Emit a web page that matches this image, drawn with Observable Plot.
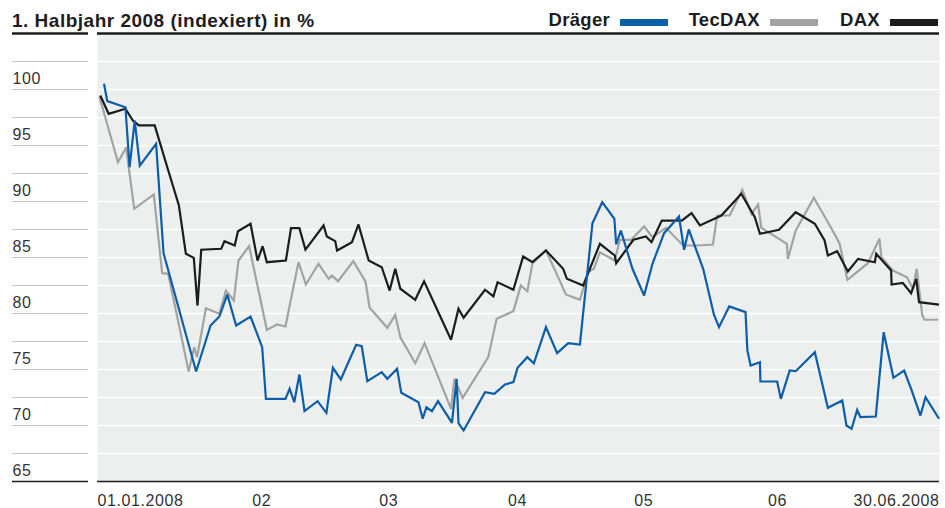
<!DOCTYPE html>
<html><head><meta charset="utf-8">
<script src="https://cdn.jsdelivr.net/npm/d3@7"></script>
<script src="https://cdn.jsdelivr.net/npm/@observablehq/plot@0.6"></script>
<style>
body{margin:0;background:#fff;}
#wrap{position:relative;width:945px;height:508px;font-family:"Liberation Sans",Arial,Helvetica,sans-serif;overflow:hidden;}
.t{position:absolute;white-space:nowrap;font-weight:bold;color:#1d1d1f;}
#title{left:12px;top:11px;font-size:19px;line-height:19px;letter-spacing:0.5px;}
.lg{font-size:18.5px;line-height:19px;top:10px;letter-spacing:0.3px;}
.sw{position:absolute;top:19px;height:7px;width:48px;}
#chart{position:absolute;left:0;top:28px;}
</style></head><body>
<div id="wrap">
  <div id="title" class="t"></div>
  <div id="legend"></div>
  <div id="chart"></div>
</div>
<script>
const titleText = "1. Halbjahr 2008 (indexiert) in %";
const seriesNames = ["Dräger", "TecDAX", "DAX"];
const seriesColors = ["#0b5ea8", "#a3a3a3", "#1c1c1e"];

// x = days since 01.01.2008, y = index value in %
const dragerPoints = [[1.4,100.51],[2.1,98.96],[6.0,98.42],[6.9,93.06],[8.0,97.23],[9.1,93.21],[12.6,95.15],[14.2,85.38],[21.2,74.82],[24.3,78.93],[26.2,79.73],[27.9,81.70],[29.8,78.93],[32.9,79.73],[35.4,76.99],[36.2,72.38],[40.4,72.38],[41.3,73.28],[42.3,72.08],[43.4,74.55],[44.5,71.29],[47.3,72.17],[49.2,71.13],[50.6,75.15],[52.3,74.11],[55.6,77.21],[56.8,77.08],[58.0,73.96],[61.1,74.76],[62.3,74.17],[64.4,75.06],[65.3,72.92],[69.0,72.08],[69.9,70.60],[70.7,71.63],[71.9,71.28],[73.2,72.17],[76.2,70.24],[77.2,74.17],[77.6,70.21],[78.7,69.55],[83.3,72.97],[85.3,72.83],[87.6,73.66],[89.4,73.87],[90.3,75.15],[92.4,76.10],[93.8,75.56],[96.4,78.78],[98.8,76.46],[101.2,77.35],[103.7,77.23],[106.4,88.06],[108.5,89.94],[111.1,88.46],[111.5,86.16],[112.5,87.41],[115.0,83.99],[117.5,81.61],[119.3,84.44],[121.8,87.17],[125.0,88.66],[126.1,85.69],[127.1,87.50],[130.2,83.99],[132.5,79.91],[133.6,78.78],[135.8,80.63],[139.3,80.12],[139.7,76.70],[140.4,75.36],[142.4,75.65],[142.5,73.93],[146.1,73.93],[146.9,72.38],[148.8,74.91],[150.1,74.85],[154.2,76.54],[157.0,71.58],[160.1,72.23],[161.0,70.00],[162.1,69.71],[163.3,71.40],[164.0,70.74],[167.3,70.80],[169.0,78.33],[171.1,74.26],[173.4,74.91],[174.9,73.28],[176.9,70.89],[178.0,72.53],[180.9,70.60]];

const tecdaxPoints = [[0.4,99.38],[4.4,93.51],[6.2,94.85],[6.7,93.06],[7.9,89.35],[12.1,90.63],[13.9,83.60],[15.2,83.54],[19.6,74.82],[20.8,76.99],[21.4,76.10],[23.3,80.47],[26.2,79.97],[27.6,82.05],[29.3,81.16],[30.3,84.73],[32.6,86.01],[36.4,78.54],[38.6,79.02],[40.4,78.84],[43.2,84.58],[44.8,82.59],[47.5,84.44],[49.7,83.10],[50.4,83.39],[51.7,82.88],[55.0,84.67],[57.6,82.86],[58.5,80.51],[62.3,78.72],[64.0,79.88],[65.1,77.88],[68.3,75.56],[70.3,77.35],[76.0,71.49],[76.7,74.17],[78.5,72.47],[84.0,76.10],[85.8,79.53],[89.4,80.21],[91.0,82.50],[92.4,81.99],[93.5,84.49],[96.4,85.63],[100.7,81.70],[103.7,81.22],[105.5,83.69],[106.7,83.99],[108.0,85.47],[111.2,84.73],[112.3,86.58],[114.7,86.58],[117.5,87.77],[119.3,86.81],[122.2,87.65],[125.9,86.07],[129.1,86.07],[132.3,86.16],[133.2,88.75],[135.9,88.75],[138.6,91.04],[140.6,88.90],[142.0,89.73],[142.7,87.65],[148.2,86.22],[148.4,84.88],[150.1,87.41],[154.0,90.33],[157.8,87.56],[159.5,86.28],[161.2,83.01],[165.6,84.49],[168.1,86.67],[168.5,85.03],[171.0,83.84],[174.0,83.24],[175.3,82.21],[176.1,83.99],[177.3,79.82],[177.8,79.44],[180.7,79.44]];

const daxPoints = [[0.6,99.46],[2.4,97.83],[6.0,98.28],[7.6,97.23],[8.9,96.79],[12.3,96.79],[15.0,93.06],[17.5,89.64],[19.0,85.33],[20.7,84.97],[21.5,80.71],[22.3,85.69],[26.6,85.78],[27.3,86.46],[29.5,86.07],[30.2,87.35],[32.9,88.01],[34.4,84.73],[35.5,86.01],[36.4,84.58],[40.5,84.73],[41.6,87.62],[43.4,87.62],[44.7,85.71],[48.6,87.86],[49.3,86.88],[51.1,86.46],[51.5,85.63],[54.7,86.37],[56.1,87.95],[58.3,84.73],[61.1,84.13],[62.8,82.05],[64.0,83.99],[65.1,82.21],[68.3,81.22],[70.2,82.88],[76.0,77.65],[77.6,80.42],[78.7,79.62],[83.3,82.12],[85.1,81.52],[86.0,82.79],[89.4,82.12],[91.5,85.09],[93.5,84.58],[96.4,85.63],[100.1,83.99],[100.9,83.10],[104.4,82.50],[108.0,86.22],[111.2,85.18],[111.5,84.49],[115.2,86.58],[117.9,86.88],[119.1,86.37],[121.3,88.30],[125.6,88.30],[127.7,88.96],[129.5,87.86],[134.1,88.75],[138.4,90.69],[141.3,88.60],[142.4,87.12],[146.5,87.47],[150.1,89.04],[154.2,88.01],[156.3,86.52],[157.0,85.18],[159.0,85.56],[161.3,83.75],[163.5,84.88],[167.1,84.58],[167.4,85.33],[170.6,83.84],[170.7,82.59],[173.1,82.74],[174.9,81.81],[176.0,83.10],[176.6,81.01],[180.9,80.80]];

const yLabelValues = [100, 95, 90, 85, 80, 75, 70, 65];
const gridValues = [67.5, 70, 72.5, 75, 77.5, 80, 82.5, 85, 87.5, 90, 92.5, 95, 97.5, 100, 102.5];
const xTickDays = [0, 35.3, 62.6, 90.3, 117.4, 146.2, 181];
const xTickLabels = ["01.01.2008", "02", "03", "04", "05", "06", "30.06.2008"];

// header
document.getElementById("title").textContent = titleText;
const legendLayout = [{textRight: 610, swatchLeft: 620}, {textRight: 760, swatchLeft: 770}, {textRight: 880, swatchLeft: 890}];
const legend = document.getElementById("legend");
seriesNames.forEach((name, i) => {
  const t = document.createElement("div");
  t.className = "t lg";
  t.style.right = (945 - legendLayout[i].textRight) + "px";
  t.textContent = name;
  legend.appendChild(t);
  const s = document.createElement("div");
  s.className = "sw";
  s.style.left = legendLayout[i].swatchLeft + "px";
  s.style.background = seriesColors[i];
  legend.appendChild(s);
});

const xIdx = xTickDays.map((d, i) => i);
const lineOpts = (color) => ({x: d => d[0], y: d => d[1], stroke: color, strokeWidth: 2.2, strokeLinejoin: "miter", strokeMiterlimit: 3, strokeLinecap: "butt"});

const chart = Plot.plot({
  width: 945,
  height: 480,
  marginTop: 5,
  marginBottom: 27,
  marginLeft: 97,
  marginRight: 6,
  x: {domain: [0, 181], axis: null},
  y: {domain: [65, 105], axis: null},
  style: {fontFamily: "'Liberation Sans', Arial, Helvetica, sans-serif", fontSize: "16px", color: "#333", letterSpacing: "0.6px", background: "transparent", overflow: "visible"},
  marks: [
    Plot.frame({fill: "#edeeee", stroke: null}),
    Plot.ruleY(gridValues, {stroke: "#ffffff", strokeWidth: 1.5}),
    Plot.axisY(gridValues.concat([102.5]), {anchor: "left", tickSize: 76, dx: -9, stroke: "#c6c6c6", strokeWidth: 1.2, tickFormat: () => "", label: null}),
    Plot.axisY([105], {anchor: "left", tickSize: 76, dx: -9, stroke: "#1c1c1e", strokeWidth: 2.5, tickFormat: () => "", label: null}),
    Plot.axisY([65], {anchor: "left", tickSize: 76, dx: -9, stroke: "#1c1c1e", strokeWidth: 1.6, tickFormat: () => "", label: null}),
    Plot.ruleY([105], {stroke: "#1c1c1e", strokeWidth: 2.5}),
    Plot.line(tecdaxPoints, lineOpts(seriesColors[1])),
    Plot.line(daxPoints, lineOpts(seriesColors[2])),
    Plot.line(dragerPoints, lineOpts(seriesColors[0])),
    Plot.ruleY([65], {stroke: "#1c1c1e", strokeWidth: 1.6}),
    Plot.text(yLabelValues, {y: d => d, text: d => String(d), frameAnchor: "left", dx: -85, dy: -6, textAnchor: "start", lineAnchor: "bottom", fill: "#333"}),
    Plot.text(xIdx.filter(i => i === 0), {x: i => xTickDays[i], text: i => xTickLabels[i], frameAnchor: "bottom", dy: 24.5, lineAnchor: "bottom", textAnchor: "start", fill: "#333"}),
    Plot.text(xIdx.filter(i => i > 0 && i < xIdx.length - 1), {x: i => xTickDays[i], text: i => xTickLabels[i], frameAnchor: "bottom", dy: 24.5, lineAnchor: "bottom", textAnchor: "middle", fill: "#333"}),
    Plot.text(xIdx.filter(i => i === xIdx.length - 1), {x: i => xTickDays[i], text: i => xTickLabels[i], frameAnchor: "bottom", dy: 24.5, lineAnchor: "bottom", textAnchor: "end", fill: "#333"})
  ]
});
document.getElementById("chart").appendChild(chart);
</script>
</body></html>
